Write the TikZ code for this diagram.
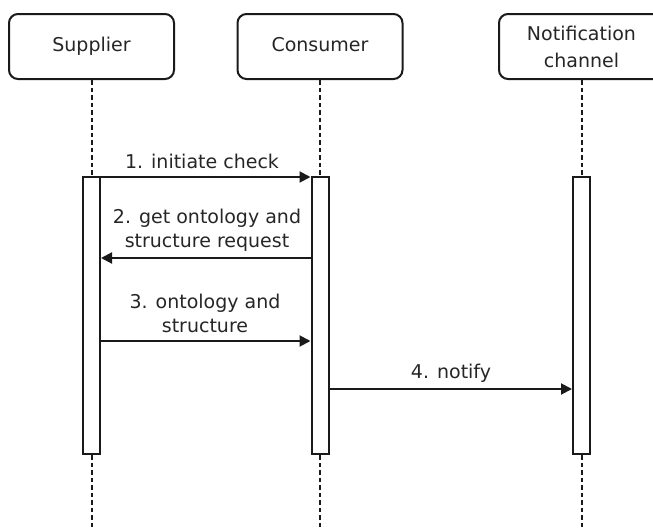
\documentclass[tikz,border=0pt]{standalone}
\usepackage{fontspec}
\setmainfont{DejaVu Sans}
\usetikzlibrary{arrows.meta}
\definecolor{ink}{HTML}{1A1A1A}
\definecolor{txt}{HTML}{262626}
\tikzset{
  head/.style={draw=ink, line width=2pt, rounded corners=9pt, fill=white,
    minimum width=165pt, minimum height=65pt, inner sep=0pt,
    font=\fontsize{19}{27}\selectfont, text=txt, align=center},
  lifeline/.style={draw=ink, line width=2pt, dash pattern=on 4.5pt off 3pt},
  actbox/.style={draw=ink, line width=2pt, fill=white,
    minimum width=17pt, minimum height=277pt, inner sep=0pt},
  msg/.style={draw=ink, line width=2pt, -{Triangle[length=11pt,width=11pt]}},
  lbl/.style={font=\fontsize{19}{24}\selectfont, text=txt, align=center, inner sep=0pt}
}
\begin{document}
\begin{tikzpicture}[x=1pt,y=-1pt]
  \useasboundingbox (0,0) rectangle (653,530);
  \clip (0,0) rectangle (653,530);

  % participants (struts keep single-line names on a common baseline)
  \node[head] (sup) at (91.5,46.5) {\strut Supplier};
  \node[head] (con) at (320,46.5) {\strut Consumer};
  \node[head] (ntf) at (581.5,46.5) {Notification\\channel};

  % lifeline ends at the bottom edge
  \coordinate (supEnd) at (91.5,530);
  \coordinate (conEnd) at (320,530);
  \coordinate (ntfEnd) at (581.5,530);
  \draw[lifeline] (sup.south) -- (supEnd);
  \draw[lifeline] (con.south) -- (conEnd);
  \draw[lifeline] (ntf.south) -- (ntfEnd);

  % activation bars
  \node[actbox] (supA) at (91.5,315.5) {};
  \node[actbox] (conA) at (320,315.5) {};
  \node[actbox] (ntfA) at (581.5,315.5) {};

  % messages
  \draw[msg] (supA.east |- 0,177) -- (conA.west |- 0,177);
  \node[lbl] (m1) at (202,161) {1. initiate check};

  \draw[msg] (conA.west |- 0,258) -- (supA.east |- 0,258);
  \node[lbl] (m2) at (207,230.5) {2. get ontology and\\structure request};

  \draw[msg] (supA.east |- 0,341) -- (conA.west |- 0,341);
  \node[lbl] (m3) at (205,313.5) {3. ontology and\\structure};

  \draw[msg] (conA.east |- 0,389) -- (ntfA.west |- 0,389);
  \node[lbl] (m4) at (451,373) {4. notify};
\end{tikzpicture}
\end{document}
